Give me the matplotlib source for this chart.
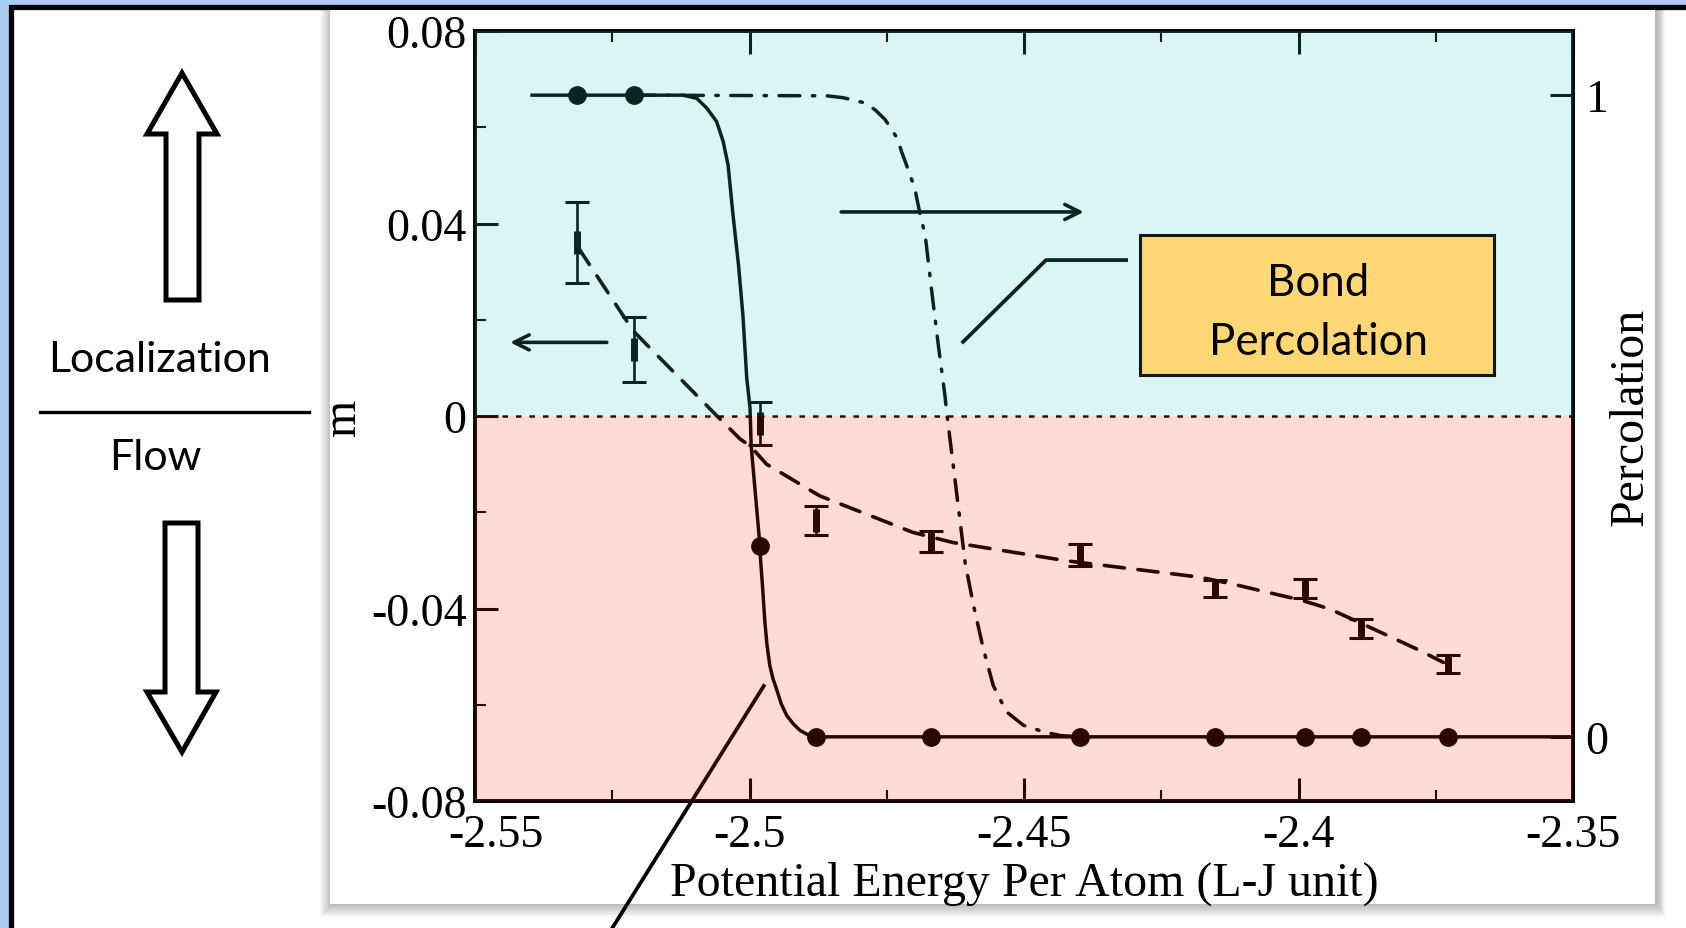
import numpy as np
import matplotlib
matplotlib.use('Agg')
import matplotlib.pyplot as plt
import matplotlib.transforms as mtransforms
from matplotlib.patches import Rectangle, Polygon
from matplotlib.ticker import MultipleLocator

# ---- data ----
energy = [-2.5314, -2.5210, -2.4981, -2.4878, -2.4670, -2.4398, -2.4152, -2.3988, -2.3886, -2.3728]
m_value = [0.0360, 0.0138, -0.0015, -0.0218, -0.0261, -0.0289, -0.0358, -0.0358, -0.0442, -0.0515]
m_error = [0.0084, 0.0068, 0.0045, 0.0030, 0.0022, 0.0022, 0.0018, 0.0020, 0.0020, 0.0019]
percolation = [1, 1, 0.298, 0, 0, 0, 0, 0, 0, 0]

# dashed guide through m
fit_x = [-2.5312, -2.5224, -2.5212, -2.5060, -2.5017, -2.4999, -2.4969, -2.4872, -2.4702,
         -2.4629, -2.4422, -2.4179, -2.4113, -2.4058, -2.3997, -2.3943, -2.3876, -2.3785, -2.3736]
fit_m = [0.0350, 0.0198, 0.0177, 0.0001, -0.0048, -0.0062, -0.0100, -0.0166, -0.0242,
         -0.0263, -0.0301, -0.0335, -0.0351, -0.0366, -0.0382, -0.0401, -0.0436, -0.0484, -0.0512]

# solid percolation curve
perc_x = [-2.5396, -2.5314, -2.5210, -2.5121, -2.5096, -2.5078, -2.5060, -2.5048, -2.5039,
          -2.5030, -2.5020, -2.5012, -2.5005, -2.4999, -2.4997, -2.4981, -2.4980, -2.4976,
          -2.4972, -2.4968, -2.4963, -2.4957, -2.4951, -2.4942, -2.4932, -2.4920, -2.4908,
          -2.4893, -2.4878, -2.3500]
perc_y = [1.0, 1.0, 1.0, 1.0, 0.995, 0.980, 0.959, 0.928, 0.891,
          0.813, 0.735, 0.657, 0.559, 0.512, 0.454, 0.298, 0.278, 0.231,
          0.179, 0.142, 0.111, 0.090, 0.075, 0.051, 0.033, 0.020, 0.010,
          0.003, 0.0, 0.0]

# dash-dot bond percolation curve
bond_x = [-2.5210, -2.4859, -2.4829, -2.4790, -2.4771, -2.4753, -2.4731, -2.4723, -2.4714,
          -2.4699, -2.4689, -2.4680, -2.4668, -2.4656, -2.4644, -2.4641, -2.4623, -2.4607,
          -2.4592, -2.4574, -2.4556, -2.4532, -2.4501, -2.4465, -2.4434, -2.4398]
bond_y = [1.0, 0.999, 0.996, 0.988, 0.977, 0.962, 0.933, 0.912, 0.891,
          0.855, 0.813, 0.782, 0.694, 0.610, 0.532, 0.507, 0.382, 0.270,
          0.205, 0.137, 0.080, 0.039, 0.018, 0.008, 0.002, 0.0]

xticks = [-2.55, -2.5, -2.45, -2.4, -2.35]
xtick_labels = ['-2.55', '-2.5', '-2.45', '-2.4', '-2.35']
yticks = [0.08, 0.04, 0, -0.04, -0.08]
ytick_labels = ['0.08', '0.04', '0', '-0.04', '-0.08']
perc_ticks = [0, 1]
perc_tick_labels = ['0', '1']

plt.rcParams['font.family'] = ['Liberation Serif', 'DejaVu Serif']

W, H = 1686, 929
fig = plt.figure(figsize=(W / 100, H / 100), dpi=100, facecolor='#abcdf5')

# ---- slide background (pixel coordinates) ----
bg = fig.add_axes([0, 0, 1, 1], zorder=-1)
bg.set_xlim(0, W)
bg.set_ylim(H, 0)
bg.axis('off')
bg.add_patch(Rectangle((10.5, 7.5), 1680, 925, fc='white', ec='black', lw=3.8))
for k in range(1, 10):
    bg.add_patch(Rectangle((330 - k * 1.3 + 2, 11), 1325 + k * 2.2, 894 + k * 1.4,
                           fc='black', alpha=0.03, lw=0))
bg.add_patch(Rectangle((330, 11), 1325, 894, fc='white', lw=0))

up_arrow = [(182, 74), (217, 135), (199, 135), (199, 301), (166, 301), (166, 135), (147, 135)]
down_arrow = [(182, 753), (216, 693), (198, 693), (198, 524), (165, 524), (165, 693), (147, 693)]
bg.add_patch(Polygon(up_arrow, closed=True, fc='white', ec='black', lw=3.6, joinstyle='miter'))
bg.add_patch(Polygon(down_arrow, closed=True, fc='white', ec='black', lw=3.6, joinstyle='miter'))
bg.plot([40, 309], [413, 413], color='black', lw=2.4)
bg.text(160, 360, 'Localization', family='Lato', fontsize=31, ha='center', va='center')
bg.text(155, 458, 'Flow', family='Lato', fontsize=31, ha='center', va='center')

# ---- main plot ----
ax = fig.add_axes([475 / W, 1 - 802 / H, 1098 / W, 770 / H])
ax.set_facecolor('white')
ax.set_xlim(-2.55, -2.35)
ax.set_ylim(-0.08, 0.08)

ax.axhline(0, color='black', lw=1.8, ls=(0, (2.2, 3.2)))
ax.plot(fit_x, fit_m, color='black', lw=2.6, ls=(0, (5.6, 3.8)), dash_capstyle='round')
ax.errorbar(energy, m_value, yerr=m_error, fmt='none', ecolor='black',
            elinewidth=1.9, capsize=8.5, capthick=2.2)
ax.errorbar(energy, m_value, yerr=np.minimum(m_error, 0.0024), fmt='none',
            ecolor='black', elinewidth=5, capsize=0)

# annotation arrows and callout lines
arrow_style = dict(arrowstyle='->', lw=2.6, color='black', mutation_scale=27,
                   shrinkA=0, shrinkB=0)
ax.annotate('', xy=(-2.4391, 0.0424), xytext=(-2.4833, 0.0424), arrowprops=arrow_style)
ax.annotate('', xy=(-2.5436, 0.0153), xytext=(-2.5260, 0.0153), arrowprops=arrow_style)
ax.plot([-2.4314, -2.4460, -2.4611], [0.0324, 0.0324, 0.0154], color='black', lw=2.7)
ax.plot([-2.4974, -2.5250], [-0.0561, -0.1064], color='black', lw=2.7, clip_on=False, zorder=5)

ax.set_xticks(xticks, xtick_labels)
ax.set_yticks(yticks, ytick_labels)
ax.xaxis.set_minor_locator(MultipleLocator(0.025))
ax.yaxis.set_minor_locator(MultipleLocator(0.02))
ax.tick_params(which='both', direction='in', top=True, right=False, labelsize=33, color='black')
ax.tick_params(which='major', length=16.5, width=2.2)
ax.tick_params(which='minor', length=8, width=1.5)
ax.tick_params(axis='x', pad=9)
ax.tick_params(axis='y', pad=6)
for sp in ax.spines.values():
    sp.set_linewidth(2.6)
# first x label is nudged right, clear of the -0.08 label
first = ax.get_xticklabels()[0]
first.set_transform(first.get_transform() +
                    mtransforms.ScaledTranslation(21 / 100, 0, fig.dpi_scale_trans))

ax.set_xlabel('Potential Energy Per Atom (L-J unit)', fontsize=34.5)
ax.set_ylabel('m', fontsize=34.5)
ax.xaxis.set_label_coords(0.5, -0.078)
ax.yaxis.set_label_coords(-0.100, 0.5)

ax2 = ax.twinx()
ax2.set_ylim(-0.1, 1.1)
ax2.plot(perc_x, perc_y, color='black', lw=2.5)
ax2.plot(bond_x, bond_y, color='black', lw=2.5, ls=(0, (6, 3.6, 0.7, 3.6)),
         dash_capstyle='round')
ax2.plot(energy, percolation, 'o', color='black', ms=12.5)
ax2.set_yticks(perc_ticks, perc_tick_labels)
ax2.tick_params(direction='in', length=16.5, width=2.2, labelsize=33, pad=9)
for sp in ax2.spines.values():
    sp.set_linewidth(2.6)
ax2.set_ylabel('Percolation', fontsize=34.5)
ax2.yaxis.set_label_coords(1.032, 0.5)

# tinted halves over the plot (localization above 0, flow below)
ax2.add_patch(Rectangle((0, 0.5), 1, 0.5, transform=ax2.transAxes, fc='#38cccc',
                        alpha=0.18, lw=0, zorder=20))
ax2.add_patch(Rectangle((0, 0), 1, 0.5, transform=ax2.transAxes, fc='#ff2b12',
                        alpha=0.17, lw=0, zorder=20))

# label box
ax2.add_patch(Rectangle((-2.4289, 0.0085), 0.0646, 0.0291, transform=ax.transData,
                        fc='#ffd875', ec='#0d1a1a', lw=2.2, zorder=30))
ax2.text(-2.3964, 0.0216, 'Bond\nPercolation', transform=ax.transData, family='Lato',
         fontsize=31.5, ha='center', va='center', linespacing=1.55, zorder=31)

fig.savefig('out.png', dpi=100)
